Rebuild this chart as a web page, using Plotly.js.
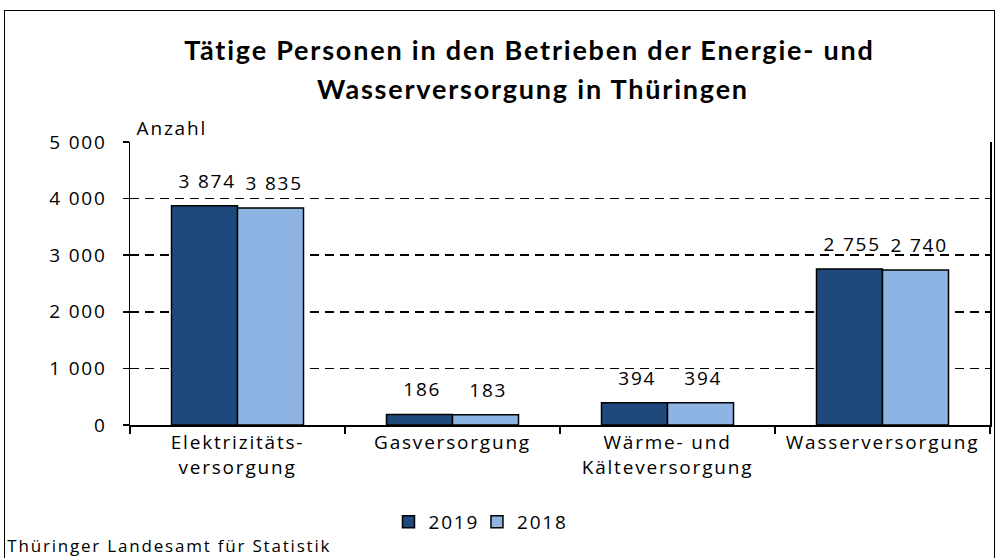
<!DOCTYPE html>
<html><head><meta charset="utf-8">
<script src="https://cdn.plot.ly/plotly-3.0.1.min.js"></script>
<style>
html,body{margin:0;padding:0;background:#fff;}
#wrap{position:relative;width:999px;height:558px;overflow:hidden;}
#chart{position:absolute;left:0;top:0;width:999px;height:558px;}
#chart text{letter-spacing:1.8px;}
#frame{position:absolute;left:4px;top:10px;width:991px;height:560px;border:1.5px solid #000;pointer-events:none;box-sizing:border-box;}
</style></head>
<body><div id="wrap"><div id="chart"></div><div id="frame"></div></div>
<script>
const categories = ["Elektrizitäts-<br>versorgung", "Gasversorgung", "Wärme- und<br>Kälteversorgung", "Wasserversorgung"];
const values2019 = [3874, 186, 394, 2755];
const values2018 = [3835, 183, 394, 2740];
const seriesNames = ["2019", "2018"];
const yTicks = [0, 1000, 2000, 3000, 4000, 5000];
const yTickLabels = ["0", "1 000", "2 000", "3 000", "4 000", "5 000"];
const fmt = v => String(v).replace(/\B(?=(\d{3})+(?!\d))/g, " ");

const font = "Open Sans, Noto Sans, sans-serif";
const mk = (name, vals, color) => ({
  type: "bar", name: name, x: categories, y: vals,
  marker: {color: color, line: {color: "#000", width: 1.5}},
  hoverinfo: "none"
});
const data = [mk(seriesNames[0], values2019, "#1f497d"), mk(seriesNames[1], values2018, "#8db4e2")];
const py = p => (425 - p) / 283;
const plotW = 860, bargap = 0.386;
const halfBar = plotW / categories.length * (1 - bargap) / 4;
const valueLabels = [];
[values2019, values2018].forEach((vals, si) => {
  vals.forEach((v, i) => {
    valueLabels.push({text: fmt(v), xref: "x", yref: "y", x: categories[i], y: v,
      xshift: (si === 0 ? -halfBar : halfBar) + 3, yshift: 10, showarrow: false,
      xanchor: "center", yanchor: "bottom", font: {family: font, size: 19, color: "#000"}});
  });
});
const layout = {
  width: 999, height: 558,
  margin: {l: 130, r: 9, t: 142, b: 133},
  paper_bgcolor: "#fff", plot_bgcolor: "#fff",
  barmode: "group", bargap: bargap, bargroupgap: 0,
  showlegend: true,
  legend: {orientation: "h", x: (477-130)/860, y: py(522), xanchor: "center", yanchor: "middle",
           font: {family: font, size: 19, color: "#000"}, itemwidth: 30, traceorder: "normal"},
  xaxis: {type: "category", tickson: "boundaries", ticks: "outside", ticklen: 7, tickcolor: "#000", tickwidth: 1.5,
          showline: true, linecolor: "#000", linewidth: 1.5, showgrid: false,
          tickfont: {family: font, size: 19, color: "#000"}, fixedrange: true},
  yaxis: {range: [0, 5000], tickvals: yTicks, ticktext: yTickLabels, ticks: "outside", ticklen: 6, tickcolor: "#000", tickwidth: 1.5,
          ticklabelstandoff: 12,
          showline: true, linecolor: "#000", linewidth: 1.5, mirror: true,
          showgrid: true, gridcolor: "#000", gridwidth: 1.5, griddash: "9px,6px", zeroline: false,
          tickfont: {family: font, size: 19, color: "#000"}, fixedrange: true},
  annotations: [
    {text: "<b>Tätige Personen in den Betrieben der Energie- und</b>", xref: "paper", yref: "paper", x: (529-130)/860, y: py(50),
     showarrow: false, xanchor: "center", yanchor: "middle", font: {family: "Lato, sans-serif", size: 27, color: "#000"}},
    {text: "<b>Wasserversorgung in Thüringen</b>", xref: "paper", yref: "paper", x: (533-130)/860, y: py(88),
     showarrow: false, xanchor: "center", yanchor: "middle", font: {family: "Lato, sans-serif", size: 27, color: "#000"}},
    {text: "Anzahl", xref: "paper", yref: "paper", x: 10/860, y: py(128), showarrow: false, xanchor: "left", yanchor: "middle",
     font: {family: font, size: 19, color: "#000"}},
    {text: "Thüringer Landesamt für Statistik", xref: "paper", yref: "paper", x: (169-130)/860, y: py(545), showarrow: false,
     xanchor: "center", yanchor: "middle", font: {family: font, size: 17, color: "#000"}}
  ].concat(valueLabels)
};
Plotly.newPlot("chart", data, layout, {staticPlot: true});
</script></body></html>
